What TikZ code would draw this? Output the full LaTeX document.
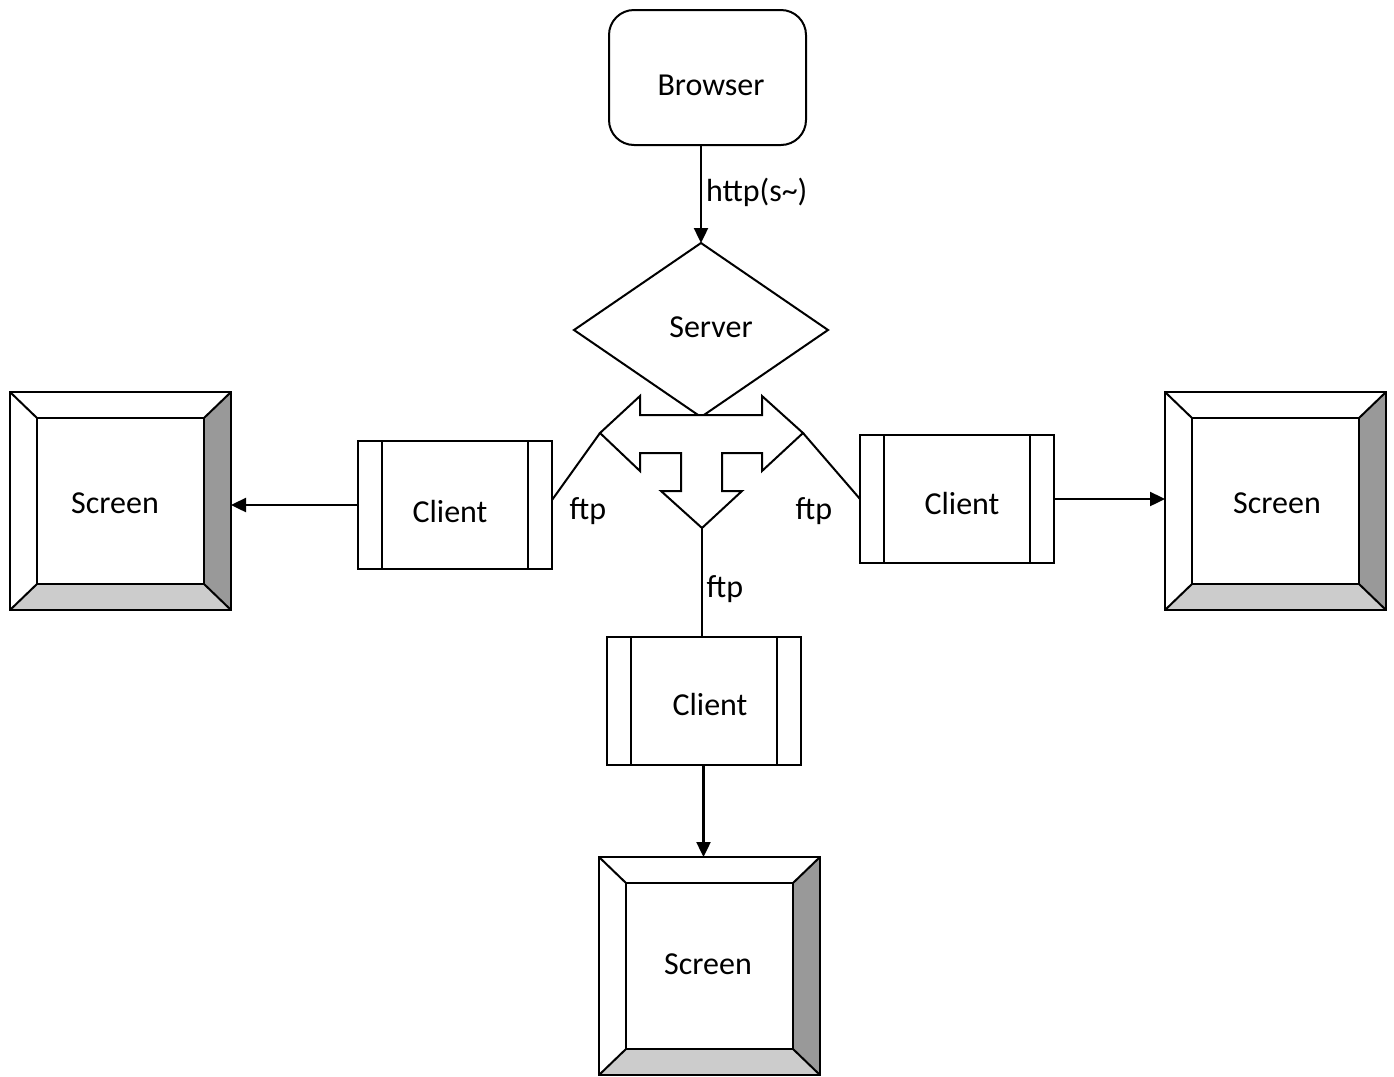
\documentclass[tikz,border=0pt]{standalone}
\usepackage{fontspec}
\setmainfont{Carlito}
\usetikzlibrary{shapes.geometric,arrows.meta}
\definecolor{bevdark}{HTML}{999999}
\definecolor{bevlight}{HTML}{CCCCCC}
\newcommand\mvtxt[3]{\makebox[0pt]{\hspace*{#1}\raisebox{#2}[\height][\depth]{#3}}}
\begin{document}
\begin{tikzpicture}[x=0.5pt,y=-0.5pt,line width=1pt,
  font=\fontsize{16}{19}\selectfont,
  box/.style={draw, line width=1pt, fill=white, inner sep=0pt, outer sep=0pt, align=center},
  browser/.style={box, rounded corners=12.5pt, minimum width=98.5pt, minimum height=67.5pt},
  server/.style={box, diamond, minimum width=127pt, minimum height=87pt},
  client/.style={box, rectangle, minimum width=97pt, minimum height=64pt},
  screen/.style={rectangle, minimum width=110.5pt, minimum height=109pt, inner sep=0pt, outer sep=0pt},
  link/.style={line width=1.2pt, -{Triangle[length=7.5pt,width=7pt]}},
  lbl/.style={inner sep=0pt}]
\useasboundingbox (0,0) rectangle (1394,1077);

% nodes
\node[browser] (browser) at (707.5,77.5) {\mvtxt{3.5pt}{-4pt}{Browser}};
\node[server] (server) at (701,330) {\mvtxt{10pt}{1.5pt}{Server}};
\node[client] (lc) at (455,505) {\mvtxt{-5pt}{-3pt}{Client}};
\node[client] (rc) at (957,499) {\mvtxt{5pt}{-2pt}{Client}};
\node[client] (bc) at (703.5,701) {\mvtxt{6.5pt}{-1.5pt}{Client}};
\node[screen] (ls) at (120.5,501) {\mvtxt{-5.5pt}{-1pt}{Screen}};
\node[screen] (rs) at (1275.5,501) {\mvtxt{1.5pt}{-1pt}{Screen}};
\node[screen] (bs) at (709.5,966) {\mvtxt{-1.5pt}{1pt}{Screen}};

% three-way arrow
\draw[fill=white, line join=miter] (600,433) -- (640,396) -- (640,415) -- (762,415) -- (762,396) -- (803,433)
  -- (762,471) -- (762,453) -- (722,453) -- (722,491) -- (742,491) -- (702,528)
  -- (661,491) -- (681,491) -- (681,453) -- (640,453) -- (640,471) -- cycle;
\coordinate (tipL) at (600,433);
\coordinate (tipR) at (803,433);
\coordinate (tipB) at (702,528);

% client side bars
\foreach \c in {lc,rc,bc}{
  \draw ([xshift=12pt]\c.north west) -- ([xshift=12pt]\c.south west);
  \draw ([xshift=-12pt]\c.north east) -- ([xshift=-12pt]\c.south east);
}

% screen bevels
\foreach \s in {ls,rs,bs}{
  \fill[bevdark] (\s.north east) -- ([shift={(-13.5pt,-13pt)}]\s.north east)
     -- ([shift={(-13.5pt,13pt)}]\s.south east) -- (\s.south east) -- cycle;
  \fill[bevlight] (\s.south west) -- ([shift={(13.5pt,13pt)}]\s.south west)
     -- ([shift={(-13.5pt,13pt)}]\s.south east) -- (\s.south east) -- cycle;
  \draw (\s.north west) rectangle (\s.south east);
  \draw ([shift={(13.5pt,-13pt)}]\s.north west) rectangle ([shift={(-13.5pt,13pt)}]\s.south east);
  \draw (\s.north west) -- ([shift={(13.5pt,-13pt)}]\s.north west);
  \draw (\s.north east) -- ([shift={(-13.5pt,-13pt)}]\s.north east);
  \draw (\s.south east) -- ([shift={(-13.5pt,13pt)}]\s.south east);
  \draw (\s.south west) -- ([shift={(13.5pt,13pt)}]\s.south west);
}

% connectors
\draw[link] (browser.south -| server.north) -- (server.north);
\node[lbl, anchor=west] (http) at (705,192) {http(s\textasciitilde)};
\draw (tipL) -- ([yshift=2.5pt]lc.east);
\draw (tipR) -- (rc.west);
\draw (tipB) -- (tipB |- bc.north);
\draw[link] (lc.west) -- (lc.west -| ls.east);
\draw[link] (rc.east) -- (rc.east -| rs.west);
\draw[link] (bc.south) -- (bc.south |- bs.north);

% labels
\node[lbl] (ftpL) at (588,511) {ftp};
\node[lbl] (ftpR) at (814,511) {ftp};
\node[lbl] (ftpB) at (725,589) {ftp};
\end{tikzpicture}
\end{document}
